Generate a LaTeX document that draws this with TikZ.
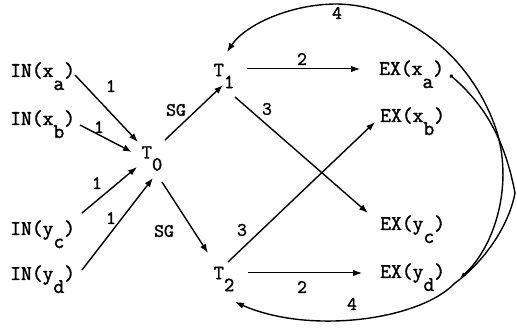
\documentclass[tikz,border=0pt]{standalone}
\usepackage{fontspec}
\newfontfamily\typew[FakeBold=1.6]{Latin Modern Mono}
\usetikzlibrary{arrows.meta,calc}
\newcommand\lowr[2][13pt]{\raisebox{-#1}{#2}}
\begin{document}
\begin{tikzpicture}[x=1pt,y=-1pt,
  lbl/.style={font=\fontsize{21}{24}\selectfont\typew, inner sep=0pt, anchor=base west},
  tnode/.style={font=\fontsize{20}{22}\selectfont\typew, inner sep=0pt},
  num/.style={font=\fontsize{19}{21}\selectfont\typew, inner sep=0pt},
  conn/.style={line width=1.4pt, -{Latex[length=9pt,width=6.5pt]}},
  hconn/.style={line width=1pt, -{Latex[length=9pt,width=6.5pt]}},
  loopline/.style={line width=1.4pt}]
\useasboundingbox (0,0) rectangle (517,328);

% inputs
\node[lbl] (ina) at (10,77)  {IN(x\lowr{a})};
\node[lbl] (inb) at (10,125) {IN(x\lowr{b})};
\node[lbl] (inc) at (10,235) {IN(y\lowr{c})};
\node[lbl] (ind) at (10,280) {IN(y\lowr{d})};

% transactions
\node[tnode] (t0) at (152,158.5) {T\lowr[12pt]{0}};
\node[tnode] (t1) at (224,76)    {T\lowr[12pt]{1}};
\node[tnode] (t2) at (224,279)   {T\lowr[12pt]{2}};

% exits
\node[lbl] (exa) at (379,75)  {EX(x\lowr{a})};
\node[lbl] (exb) at (380,122) {EX(x\lowr{b})};
\node[lbl] (exc) at (380,230) {EX(y\lowr{c})};
\node[lbl] (exd) at (380,278) {EX(y\lowr{d})};

% connectors into T0
\draw[conn] ($(ina.base west)+(65,-2)$)  -- ($(t0)+(-14,-16.5)$);
\draw[conn] ($(inb.base west)+(70,0)$)   -- ($(t0)+(-20,-6.5)$);
\draw[conn] ($(inc.base west)+(72,-22)$) -- ($(t0)+(-15,8.5)$);
\draw[conn] ($(ind.base west)+(72,-10)$) -- ($(t0)+(1,19.5)$);

% SG
\draw[conn] ($(t0)+(13,-18.5)$) -- ($(t1)+(-1,9)$);
\draw[conn] ($(t0)+(10,23.5)$)  -- ($(t2)+(-16,-26)$);

% T1, T2 to exits
\draw[hconn] ($(t1)+(23,-7)$) -- ($(exa.base west)+(-19,-6)$);
\draw[conn]  ($(t1)+(11,21)$) -- ($(exc.base west)+(-12,-17)$);
\draw[conn]  ($(t2)+(4,-17)$) -- ($(exb.base west)+(-5,0)$);
\draw[hconn] ($(t2)+(24,-6)$) -- ($(exd.base west)+(-18,-5)$);

% feedback loops
\draw[loopline, {Latex[length=6pt,width=4.5pt]}-{Latex[length=9pt,width=6.5pt]}]
  ($(exd.base west)+(80,0)$) .. controls (492,250) and (514,190) .. (497,132)
  .. controls (470,50) and (400,5) .. (337,4)
  .. controls (290,4) and (245,25) .. ($(t1)+(3,-24)$);
\draw[loopline, {Circle[length=3.5pt]}-{Latex[length=9pt,width=6.5pt]}]
  ($(exa.base west)+(71,0)$) .. controls (485,105) and (505,140) .. (515,193)
  .. controls (508,230) and (480,265) .. (455,283)
  .. controls (420,320) and (310,335) .. ($(t2)+(11,23)$);

% labels
\node[num] (la) at (111,86)  {1};
\node[num] (lb) at (99,127)  {1};
\node[num] (lc) at (97,183)  {1};
\node[num] (ld) at (111,218) {1};
\node[num] (sg1) at (176,110) {SG};
\node[num] (sg2) at (164,231) {SG};
\node[num] (n2a) at (302,59)  {2};
\node[num] (n3a) at (267,109) {3};
\node[num] (n3b) at (242,230) {3};
\node[num] (n2b) at (302,287) {2};
\node[num] (n4a) at (337,13)  {4};
\node[num] (n4b) at (352,304) {4};
\end{tikzpicture}
\end{document}
